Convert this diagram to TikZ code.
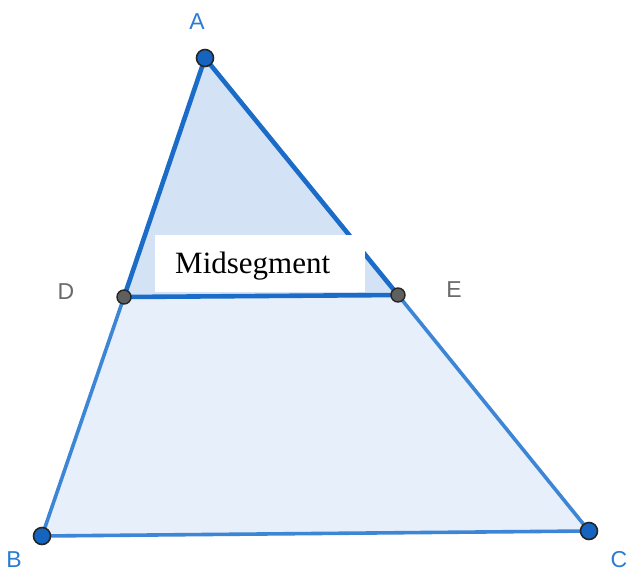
\documentclass[tikz,border=0pt]{standalone}
\usepackage{fontspec}
\setmainfont{Liberation Serif}
\newfontfamily\labfont{Liberation Sans}
\definecolor{edgeA}{HTML}{1A6CC8}
\definecolor{edgeB}{HTML}{3D86D6}
\definecolor{fillTop}{HTML}{D3E2F5}
\definecolor{fillLow}{HTML}{E7EFFA}
\definecolor{ptBlue}{HTML}{1565C0}
\definecolor{ptGray}{HTML}{5F5F5F}
\definecolor{labBlue}{HTML}{2A7BD4}
\definecolor{labGray}{HTML}{6A6A6A}
\tikzset{
  bigpt/.style={circle,draw=black!85,line width=1.6pt,fill=ptBlue,minimum size=17pt,inner sep=0pt},
  smallpt/.style={circle,draw=black!85,line width=1.4pt,fill=ptGray,minimum size=14pt,inner sep=0pt},
  bluelab/.style={text=labBlue,font=\labfont\fontsize{23}{23}\selectfont},
  graylab/.style={text=labGray,font=\labfont\fontsize{23}{23}\selectfont},
  strongedge/.style={draw=edgeA,line width=4.6pt},
  softedge/.style={draw=edgeB,line width=3.6pt}
}
\begin{document}
\begin{tikzpicture}[x=1pt,y=-1pt]
\useasboundingbox (0,0) rectangle (629,574);
\coordinate (a) at (205,58);
\coordinate (b) at (42,536);
\coordinate (c) at (589,531);
\coordinate (d) at (124,297);
\coordinate (e) at (398,295);
% fills
\fill[fillLow] (b) -- (c) -- (e) -- (d) -- cycle;
\fill[fillTop] (a) -- (d) -- (e) -- cycle;
% edges
\draw[softedge] (d) -- (b);
\draw[softedge] (b) -- (c);
\draw[softedge] (c) -- (e);
\draw[strongedge,line cap=round] (d) -- (a) -- (e);
\draw[strongedge] (d) -- (e);
% label box
\node[fill=white,minimum width=210pt,minimum height=57pt,inner sep=0pt,anchor=north west] (box) at (155,235) {};
\node[font=\fontsize{31}{31}\selectfont,anchor=base west,inner sep=0pt] (mid) at (175,273) {Midsegment};
% points
\node[bigpt] (A) at (a) {};
\node[bigpt] (B) at (b) {};
\node[bigpt] (C) at (c) {};
\node[smallpt] (D) at (d) {};
\node[smallpt] (E) at (e) {};
% labels
\node[bluelab] (la) at (197,22) {A};
\node[bluelab] (lb) at (14,560) {B};
\node[bluelab] (lc) at (619,560) {C};
\node[graylab] (ld) at (66,292) {D};
\node[graylab] (le) at (454,290) {E};
\end{tikzpicture}
\end{document}
